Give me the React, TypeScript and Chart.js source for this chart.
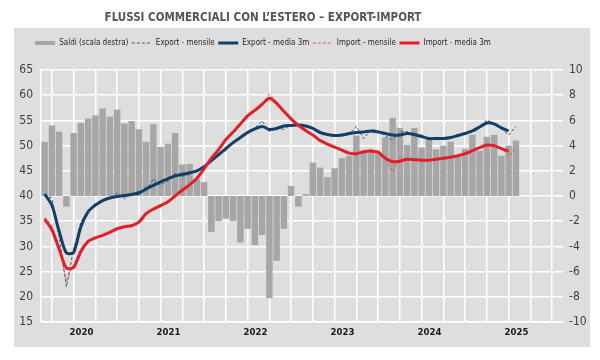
import React, { useEffect, useRef } from 'react';
import { Chart, registerables } from 'chart.js';

Chart.register(...registerables);

const TITLE = 'FLUSSI COMMERCIALI CON L’ESTERO – EXPORT-IMPORT';
const SERIES_LABELS = ['Saldi (scala destra)', 'Export - mensile', 'Export - media 3m', 'Import - mensile', 'Import - media 3m'];
const YEAR_LABELS = ['2020', '2021', '2022', '2023', '2024', '2025'];

// monthly, Jan 2020 .. Jun 2025
const saldi = [4.3, 5.6, 5.1, -0.85, 5.0, 5.8, 6.15, 6.4, 6.95, 6.3,
  6.85, 5.75, 5.95, 5.3, 4.3, 5.7, 3.9, 4.15, 5.0, 2.5,
  2.55, 1.35, 1.1, -2.85, -2.0, -1.8, -2.0, -3.7, -2.6, -3.9,
  -3.1, -8.1, -5.15, -2.6, 0.8, -0.85, 0.15, 2.65, 2.25, 1.5,
  2.2, 3.0, 3.2, 4.8, 3.45, 3.5, 3.4, 4.65, 6.2, 5.4,
  4.05, 5.4, 3.85, 4.5, 3.7, 4.0, 4.3, 3.1, 3.75, 4.85,
  3.6, 4.7, 4.85, 3.2, 4.0, 4.4];

const exportMensile = [40.2, 39.6, 32.0, 22.0, 29.5, 34.8, 36.9, 38.6, 39.0, 39.5,
  40.6, 39.5, 40.4, 40.9, 41.0, 43.4, 42.2, 43.0, 44.5, 43.9,
  44.3, 45.1, 45.6, 46.8, 48.3, 49.0, 50.8, 51.5, 52.3, 53.5,
  54.9, 52.8, 53.6, 53.2, 54.2, 54.1, 54.0, 53.4, 52.7, 52.1,
  52.1, 51.9, 52.2, 53.8, 51.4, 53.2, 53.0, 51.9, 51.1, 52.7,
  52.8, 51.9, 52.1, 51.3, 51.4, 51.6, 51.5, 52.1, 52.3, 53.0,
  53.9, 55.1, 54.3, 53.3, 52.1, 53.8];

const exportMedia3m = [40.4, 38.2, 33.0, 28.7, 28.8, 33.9, 36.9, 38.2, 39.1, 39.6,
  39.9, 40.1, 40.3, 40.6, 41.4, 42.1, 42.8, 43.4, 44.0, 44.3,
  44.6, 45.0, 45.8, 47.0, 48.2, 49.4, 50.6, 51.6, 52.6, 53.3,
  53.8, 53.2, 53.4, 53.9, 54.0, 54.1, 53.9, 53.4, 52.6, 52.2,
  52.0, 52.1, 52.4, 52.6, 52.7, 52.9, 52.7, 52.4, 52.1, 52.1,
  52.4, 52.2, 51.8, 51.4, 51.4, 51.4, 51.6, 52.0, 52.4, 52.9,
  53.7, 54.5, 54.3, 53.5, 52.9];

const importMensile = [35.8, 34.2, 29.8, 23.0, 26.5, 29.5, 31.2, 31.6, 32.3, 33.0,
  33.4, 33.9, 34.1, 34.6, 36.8, 37.2, 38.3, 39.0, 40.0, 41.3,
  42.1, 43.6, 45.6, 47.4, 49.4, 51.0, 52.8, 54.5, 55.8, 57.2,
  58.0, 60.2, 58.8, 56.5, 55.4, 54.2, 52.8, 52.0, 51.1, 50.3,
  49.6, 49.0, 48.5, 48.2, 48.5, 49.3, 48.8, 47.7, 44.8, 47.8,
  47.3, 47.3, 47.0, 47.1, 47.4, 47.4, 47.8, 47.9, 48.3, 49.1,
  49.7, 50.2, 50.1, 49.6, 47.8, 49.5];

const importMedia3m = [35.4, 33.3, 29.5, 25.7, 25.8, 29.0, 31.0, 31.7, 32.2, 32.8,
  33.5, 33.9, 34.1, 34.8, 36.5, 37.4, 38.1, 38.8, 40.0, 41.2,
  42.2, 43.5, 45.4, 47.5, 49.2, 51.2, 52.7, 54.3, 55.9, 57.0,
  58.2, 59.4, 58.4, 56.8, 55.3, 54.0, 53.0, 52.1, 51.0, 50.3,
  49.7, 49.1, 48.5, 48.4, 48.8, 48.9, 48.7, 47.5, 46.8, 46.9,
  47.3, 47.2, 47.1, 47.1, 47.3, 47.5, 47.7, 48.0, 48.4, 49.0,
  49.6, 50.1, 50.0, 49.4, 48.9];

const FONT = "'DejaVu Sans Condensed', 'Liberation Sans Narrow', 'Liberation Sans', sans-serif";
const toPts = (arr: number[]) => arr.map((v, i) => ({ x: i + 0.5, y: v }));

const panelPlugin = {
  id: 'panel',
  beforeDraw(chart: any) {
    const { ctx, width, height } = chart;
    ctx.save();
    ctx.fillStyle = '#ffffff';
    ctx.fillRect(0, 0, width, height);
    ctx.fillStyle = '#dedede';
    ctx.fillRect(14, 28, 576, 319);
    ctx.restore();
  },
};

export default function App() {
  const ref = useRef<HTMLCanvasElement | null>(null);
  useEffect(() => {
    if (!ref.current) return;
    const chart = new Chart(ref.current, {
      type: 'bar',
      data: {
        datasets: [
          {
            type: 'bar', label: SERIES_LABELS[0], data: toPts(saldi) as any, yAxisID: 'y1',
            backgroundColor: '#a6a6a6', borderWidth: 0, barPercentage: 0.9, categoryPercentage: 1, order: 5,
          },
          {
            type: 'line', label: SERIES_LABELS[1], data: toPts(exportMensile) as any, yAxisID: 'y',
            borderColor: '#2a5b8a', borderWidth: 1, borderDash: [3, 2], pointRadius: 0, tension: 0, order: 4,
          },
          {
            type: 'line', label: SERIES_LABELS[2], data: toPts(exportMedia3m) as any, yAxisID: 'y',
            borderColor: '#123f66', borderWidth: 3, pointRadius: 0, tension: 0.25, order: 2,
          },
          {
            type: 'line', label: SERIES_LABELS[3], data: toPts(importMensile) as any, yAxisID: 'y',
            borderColor: '#e85a5f', borderWidth: 1, borderDash: [3, 2], pointRadius: 0, tension: 0, order: 3,
          },
          {
            type: 'line', label: SERIES_LABELS[4], data: toPts(importMedia3m) as any, yAxisID: 'y',
            borderColor: '#e31e26', borderWidth: 3, pointRadius: 0, tension: 0.25, order: 1,
          },
        ],
      },
      options: {
        animation: false,
        responsive: false,
        layout: { padding: { left: -74, right: 0, top: 0, bottom: 12 } },
        plugins: {
          tooltip: { enabled: false },
          title: {
            display: true, text: TITLE, color: '#555555',
            font: { family: FONT, size: 11.5, weight: 'bold', lineHeight: 1.2 },
            padding: { top: 11.1, bottom: 10.6 },
          },
          subtitle: {
            display: true, text: '', position: 'top', weight: 500, fullSize: true,
            font: { family: FONT, size: 5, lineHeight: 1.2 },
            padding: { top: 0, bottom: 7 },
          },
          legend: {
            display: true, position: 'top',
            labels: {
              font: { family: FONT, size: 8 }, color: '#262626',
              usePointStyle: true, pointStyleWidth: 20, boxHeight: 4, padding: 3.5,
              generateLabels: (c: any) => c.data.datasets.map((ds: any, i: number) => ({
                text: ds.label,
                fillStyle: ds.backgroundColor || ds.borderColor,
                strokeStyle: ds.borderColor || ds.backgroundColor,
                lineWidth: ds.type === 'bar' ? 0 : ds.borderWidth,
                lineDash: ds.borderDash || [],
                pointStyle: ds.type === 'bar' ? 'rect' : 'line',
                hidden: false,
                datasetIndex: i,
                fontColor: '#262626',
              })),
            },
          },
        },
        scales: {
          x: {
            type: 'linear', min: 0, max: 72, offset: false,
            grid: { color: '#ffffff', lineWidth: 1.5, drawTicks: false },
            border: { display: true, color: '#ffffff', width: 1.5 },
            ticks: {
              stepSize: 3, autoSkip: false, maxRotation: 0, padding: 5, labelOffset: -3,
              color: '#1a1a1a', font: { family: FONT, size: 9.5, weight: 'bold' },
              callback: (v: any) => {
                const n = Number(v);
                return (n - 6) % 12 === 0 ? YEAR_LABELS[(n - 6) / 12] : '';
              },
            },
            afterFit: (s: any) => { s.height = 26; },
          },
          y: {
            position: 'left', min: 15, max: 65,
            grid: { color: '#ffffff', lineWidth: 1.5, drawTicks: false },
            border: { display: true, color: '#ffffff', width: 1.5 },
            ticks: { stepSize: 5, padding: 8, color: '#404040', font: { family: FONT, size: 12 } },
            afterFit: (s: any) => { s.width = 115; },
          },
          y1: {
            position: 'right', min: -10, max: 10,
            grid: { display: false, drawTicks: false },
            border: { display: false },
            ticks: { stepSize: 2, padding: 6, color: '#404040', font: { family: FONT, size: 12 } },
            afterFit: (s: any) => { s.width = 37; },
          },
        },
      } as any,
      plugins: [panelPlugin],
    });
    return () => chart.destroy();
  }, []);

  return (
    <div style={{ position: 'fixed', left: 0, top: 0, width: 600, height: 360 }}>
      <canvas ref={ref} width={600} height={360} style={{ width: 600, height: 360 }} />
    </div>
  );
}
